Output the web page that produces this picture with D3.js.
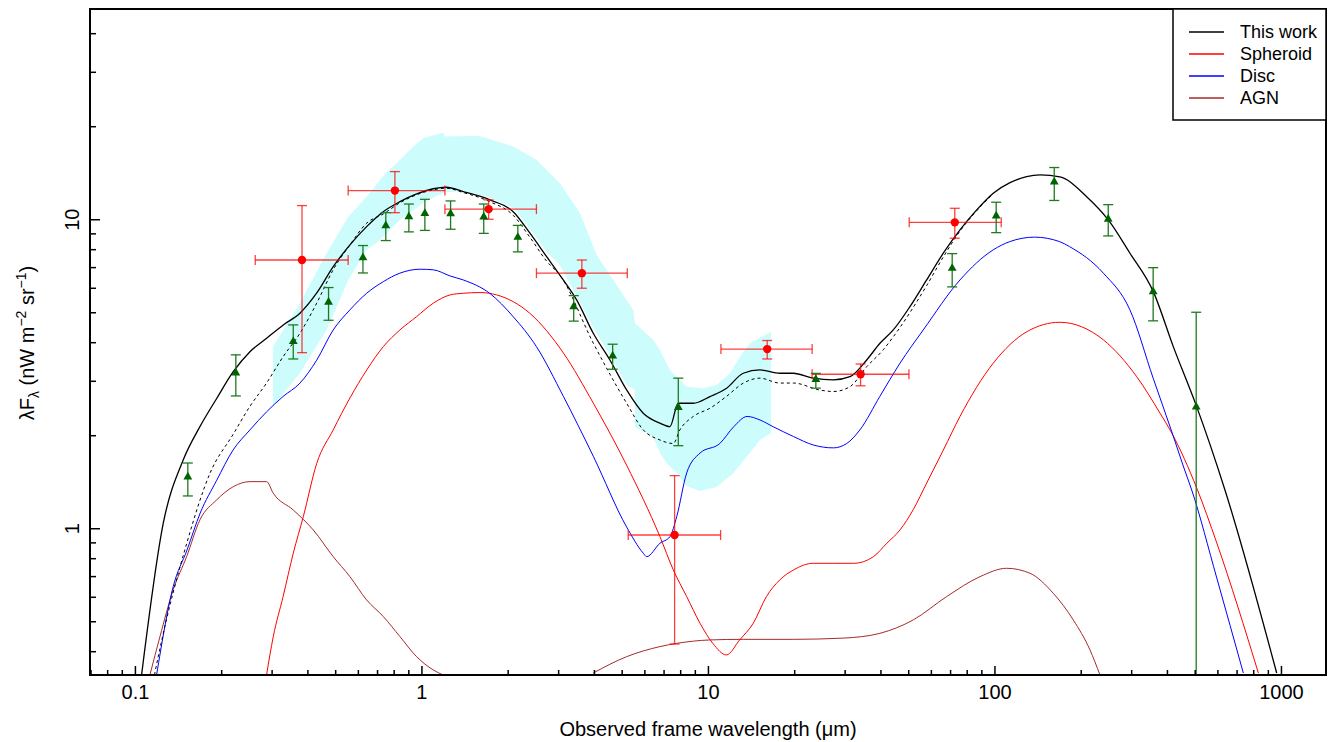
<!DOCTYPE html>
<html><head><meta charset="utf-8">
<script src="https://cdn.jsdelivr.net/npm/d3@7"></script>
<style>
body{margin:0;background:#fff}
text{font-family:"Liberation Sans",Arial,Helvetica,sans-serif;fill:#000}
</style>
</head><body>
<svg id="chart" width="1331" height="742"></svg>
<script>
// ---------- tick labels ----------
const xTickValues = [0.1, 1, 10, 100, 1000];
const xTickLabels = ["0.1", "1", "10", "100", "1000"];
const yTickValues = [1, 10];
const yTickLabels = ["1", "10"];
const legendLabels = ["This work", "Spheroid", "Disc", "AGN"];

// ---------- model curves [wavelength (um), lambda F_lambda] ----------
const thisWork = [[0.1055,0.335],[0.1256,1.038],[0.1474,1.663],[0.1686,2.132],[0.1929,2.63],[0.2204,3.21],[0.2520,3.727],[0.2882,4.120],[0.3294,4.549],[0.3766,4.964],[0.4306,5.761],[0.4922,7.024],[0.5630,8.259],[0.6438,9.464],[0.7358,10.58],[0.8414,11.40],[0.9621,12.08],[1.10,12.55],[1.22,12.69],[1.399,12.29],[1.734,11.55],[2.091,10.58],[2.392,9.010],[2.735,7.568],[3.126,6.362],[3.481,5.482],[3.978,4.276],[4.549,3.504],[5.202,2.803],[5.945,2.356],[6.800,2.187],[7.369,2.132],[7.876,2.538],[8.886,2.538],[10.16,2.666],[11.62,2.839],[13.28,3.174],[15.19,3.253],[17.84,3.174],[19.85,3.174],[23.31,3.058],[27.37,3.020],[31.31,3.094],[35.81,3.504],[39.84,3.968],[44.35,4.384],[50.70,5.213],[57.99,6.362],[66.27,7.762],[75.80,9.234],[86.70,10.72],[99.04,12.14],[113.3,13.13],[129.5,13.74],[144.2,13.91],[169.3,13.70],[209.8,11.83],[249.6,9.95],[297.2,7.76],[358.4,5.83],[420.9,3.87],[507.8,2.475],[637.5,1.33],[966.1,0.340]];
const thisWorkNoAGN = [[0.117,0.335],[0.122,0.404],[0.152,0.90],[0.183,1.51],[0.220,2.01],[0.252,2.48],[0.288,2.95],[0.329,3.59],[0.377,4.28],[0.431,5.35],[0.492,6.86],[0.563,8.26],[0.644,9.71],[0.736,10.4],[0.841,11.3],[0.962,12.0],[1.10,12.45],[1.22,12.6],[1.40,12.2],[1.73,11.4],[2.09,10.3],[2.39,8.75],[2.74,7.3],[3.04,6.60],[3.98,3.97],[5.20,2.54],[5.95,2.08],[6.80,1.93],[7.57,1.88],[7.98,2.08],[8.89,2.30],[10.2,2.45],[11.6,2.67],[13.3,2.95],[15.2,3.06],[17.8,2.95],[19.9,2.95],[24.6,2.80],[27.4,2.77],[31.3,2.87],[35.8,3.33],[40.9,3.78],[44.4,4.17],[58.0,6.1],[66.3,7.55],[75.8,9.15],[86.7,10.65],[99.0,12.1]];
const spheroid = [[0.288,0.335],[0.304,0.446],[0.329,0.601],[0.357,0.830],[0.387,1.09],[0.431,1.62],[0.492,2.08],[0.563,2.64],[0.644,3.25],[0.736,3.87],[0.841,4.38],[0.962,4.84],[1.10,5.35],[1.26,5.69],[1.40,5.76],[1.60,5.79],[1.83,5.69],[2.39,4.96],[3.13,3.69],[3.98,2.54],[5.20,1.60],[6.80,0.939],[7.57,0.733],[8.43,0.601],[9.38,0.493],[10.4,0.424],[11.6,0.389],[12.9,0.435],[14.4,0.493],[16.0,0.601],[17.8,0.680],[19.9,0.733],[23.3,0.770],[27.4,0.770],[32.2,0.770],[37.8,0.809],[42.1,0.894],[46.8,0.987],[52.1,1.15],[58.0,1.40],[66.3,1.79],[75.8,2.30],[99.0,3.42],[130,4.33],[169,4.64],[240,4.07],[314,3.09],[378,2.36],[416,2.03],[508,1.35],[597,0.896],[834,0.340]];
const disc = [[0.119,0.335],[0.136,0.647],[0.152,0.85],[0.169,1.12],[0.193,1.43],[0.220,1.79],[0.252,2.08],[0.288,2.38],[0.329,2.67],[0.377,2.95],[0.431,3.50],[0.492,4.38],[0.563,5.09],[0.644,5.76],[0.736,6.28],[0.841,6.69],[0.988,6.89],[1.10,6.86],[1.26,6.55],[1.40,6.36],[1.73,5.76],[2.09,4.84],[2.52,3.87],[3.13,2.67],[3.98,1.71],[5.20,1.01],[5.95,0.830],[6.11,0.809],[6.80,0.894],[7.37,0.939],[7.78,1.09],[8.43,1.51],[9.38,1.75],[11.0,1.88],[12.3,2.13],[13.7,2.30],[15.2,2.24],[16.9,2.13],[19.9,1.98],[23.3,1.86],[27.4,1.82],[30.5,1.88],[33.9,2.08],[39.8,2.67],[46.8,3.42],[56.4,4.38],[75.8,6.36],[99.0,7.96],[113,8.46],[138,8.75],[169,8.46],[183,8.15],[240,6.69],[297,5.09],[358,3.06],[416,2.05],[456,1.59],[488,1.33],[597,0.690],[739,0.340]];
const agnUV = [[0.1128,0.335],[0.1223,0.446],[0.1360,0.632],[0.1515,0.809],[0.1686,1.064],[0.1929,1.235],[0.2204,1.363],[0.2520,1.415],[0.2882,1.415],[0.3040,1.298],[0.3568,1.146],[0.4194,0.987],[0.4922,0.809],[0.5630,0.697],[0.6438,0.586],[0.7358,0.518],[0.8414,0.446],[0.9621,0.384],[1.099,0.348],[1.191,0.335]];
const agnIR = [[3.978,0.340],[5.202,0.384],[6.800,0.414],[7.776,0.424],[10.16,0.435],[13.28,0.437],[19.85,0.437],[29.67,0.441],[39.84,0.457],[52.07,0.505],[68.10,0.601],[88.99,0.697],[110.3,0.742],[133.0,0.715],[160.4,0.616],[188.4,0.505],[215.4,0.404],[233.5,0.335]];

// ---------- uncertainty band ----------
const bandUpper = [[0.3032,3.869],[0.3766,5.359],[0.4668,7.762],[0.5553,10.19],[0.6438,11.83],[0.7560,14.23],[0.8194,15.18],[0.9363,17.18],[1.015,18.29],[1.191,19.07],[1.208,18.51],[1.600,18.60],[2.091,17.18],[2.524,15.55],[3.043,13.08],[3.574,10.48],[4.088,7.664],[4.672,6.362],[5.487,5.087],[5.562,4.607],[6.444,4.068],[6.800,3.776],[7.369,3.253],[8.427,2.872],[9.630,2.839],[10.72,2.910],[11.94,3.174],[12.93,3.592],[14.02,3.968],[16.60,4.327]];
const bandLower = [[0.3032,2.475],[0.3766,3.181],[0.4668,4.384],[0.5553,6.362],[0.6438,7.955],[0.7164,8.570],[0.8414,9.947],[1.012,11.29],[1.189,12.17],[1.399,12.37],[1.734,11.72],[2.091,10.88],[2.392,9.302],[2.735,7.839],[3.043,7.114],[3.481,5.646],[3.978,4.448],[4.549,3.638],[5.202,2.910],[5.562,2.803],[5.562,2.127],[6.444,1.975],[6.800,1.753],[7.176,1.627],[7.776,1.510],[8.427,1.370],[9.378,1.320],[10.72,1.360],[12.26,1.507],[13.65,1.705],[15.19,1.931],[16.60,2.034]];

// ---------- observations: green triangles ----------
const triWave = [0.153,0.225,0.357,0.474,0.625,0.751,0.904,1.028,1.264,1.65,2.17,3.40,4.65,7.88,23.8,71.2,101.4,161.7,249.5,358,506];
const triFlux = [1.466,3.18,4.02,5.39,7.51,9.53,10.2,10.45,10.43,10.17,8.74,5.21,3.61,2.46,3.03,6.94,10.25,13.2,10.0,5.83,2.47];
const triLow  = [1.272,2.68,3.53,4.71,6.70,8.53,9.1,9.2,9.28,9.0,7.84,4.68,3.27,1.85,2.84,6.04,9.05,11.5,8.83,4.69,0.01];
const triHigh = [1.626,3.64,4.55,6.01,8.22,10.5,11.2,11.6,11.46,11.2,9.55,5.66,3.94,3.06,3.17,7.74,11.35,14.7,11.15,6.97,5.0];

// ---------- observations: red circles ----------
const dotWave   = [0.383,0.808,1.716,3.63,7.65,16.1,34.1,72.7];
const dotFlux   = [7.38,12.38,10.78,6.69,0.951,3.80,3.15,9.77];
const dotWaveLo = [0.263,0.555,1.208,2.52,5.27,11.1,23.1,50.4];
const dotWaveHi = [0.555,1.208,2.52,5.23,11.07,23.1,50.3,105.6];
const dotFluxLo = [3.70,10.5,10.0,5.98,0.422,3.53,2.89,8.68];
const dotFluxHi = [11.07,14.26,11.55,7.38,1.48,4.05,3.40,10.85];

// ---------- layout ----------
const L = 90, R = 1326, T = 9, B = 675;
const svg = d3.select("#chart");
const x = d3.scaleLog().domain([0.0697, 1436]).range([L, R]);
const y = d3.scaleLog().domain([0.335, 47.9]).range([B, T]);

svg.append("defs").append("clipPath").attr("id","clip")
  .append("rect").attr("x",L).attr("y",T).attr("width",R-L).attr("height",B-T);
const plot = svg.append("g").attr("clip-path","url(#clip)");

const line = d3.line().x(d => x(d[0])).y(d => y(d[1])).curve(d3.curveMonotoneX);
const polyLine = d3.line().x(d => x(d[0])).y(d => y(d[1]));

// band
plot.append("path")
  .attr("d", polyLine(bandUpper.concat(bandLower.slice().reverse())) + "Z")
  .attr("fill", "#ccfcfc").attr("stroke", "none");

// curves
const curve = (data, color, w, dash) => plot.append("path").attr("d", line(data))
  .attr("fill","none").attr("stroke",color).attr("stroke-width",w)
  .attr("stroke-dasharray", dash || null).attr("stroke-linejoin","round");
curve(agnUV, "#a52a2a", 1);
curve(agnIR, "#a52a2a", 1);
curve(spheroid, "#ff0000", 1);
curve(disc, "#0000ff", 1);
curve(thisWorkNoAGN, "#000", 1, "3,3");
curve(thisWork, "#000", 1.3);

// red points with error bars
const redErr = "rgba(255,0,0,0.75)";
dotWave.forEach((w, i) => {
  const cx = x(w), cy = y(dotFlux[i]);
  const x0 = x(dotWaveLo[i]), x1 = x(dotWaveHi[i]);
  const y0 = y(Math.max(dotFluxLo[i], 0.3)), y1 = y(dotFluxHi[i]);
  const g = plot.append("g").attr("stroke", redErr).attr("stroke-width", 1.3);
  g.append("line").attr("x1",x0).attr("x2",x1).attr("y1",cy).attr("y2",cy);
  g.append("line").attr("x1",x0).attr("x2",x0).attr("y1",cy-5).attr("y2",cy+5);
  g.append("line").attr("x1",x1).attr("x2",x1).attr("y1",cy-5).attr("y2",cy+5);
  g.append("line").attr("x1",cx).attr("x2",cx).attr("y1",y0).attr("y2",y1);
  g.append("line").attr("x1",cx-5).attr("x2",cx+5).attr("y1",y0).attr("y2",y0);
  g.append("line").attr("x1",cx-5).attr("x2",cx+5).attr("y1",y1).attr("y2",y1);
  plot.append("circle").attr("cx",cx).attr("cy",cy).attr("r",4.2).attr("fill","#ff0000");
});

// green triangles with error bars
const greenErr = "#1f7a1f";
const tri = d3.symbol().type(d3.symbolTriangle).size(34);
triWave.forEach((w, i) => {
  const cx = x(w), cy = y(triFlux[i]);
  const y0 = y(Math.max(triLow[i], 0.2)), y1 = y(triHigh[i]);
  const g = plot.append("g").attr("stroke", greenErr).attr("stroke-width", 1.3);
  g.append("line").attr("x1",cx).attr("x2",cx).attr("y1",y0).attr("y2",y1);
  if (triLow[i] > 0.335) g.append("line").attr("x1",cx-5).attr("x2",cx+5).attr("y1",y0).attr("y2",y0);
  g.append("line").attr("x1",cx-5).attr("x2",cx+5).attr("y1",y1).attr("y2",y1);
  plot.append("path").attr("d", tri()).attr("transform",`translate(${cx},${cy})`).attr("fill","#006400");
});

// ---------- axes ----------
const xMinor = [];
[0.01,0.1,1,10,100,1000].forEach(d => { for (let k=2;k<=9;k++){ const v=d*k; if (v>0.0697 && v<1436) xMinor.push(v);} });
const yMinor = [];
[0.1,1,10].forEach(d => { for (let k=2;k<=9;k++){ const v=d*k; if (v>0.335 && v<47.9) yMinor.push(v);} });

const xAxis = svg.append("g").attr("transform",`translate(0,${B})`)
  .call(d3.axisBottom(x).tickValues(xTickValues).tickFormat((d,i)=>xTickLabels[i]).tickSize(-9).tickPadding(10));
const xAxisMinor = svg.append("g").attr("transform",`translate(0,${B})`)
  .call(d3.axisBottom(x).tickValues(xMinor).tickFormat("").tickSize(-5));
const yAxis = svg.append("g").attr("transform",`translate(${L},0)`)
  .call(d3.axisLeft(y).tickValues(yTickValues).tickFormat((d,i)=>yTickLabels[i]).tickSize(-10).tickPadding(14));
const yAxisMinor = svg.append("g").attr("transform",`translate(${L},0)`)
  .call(d3.axisLeft(y).tickValues(yMinor).tickFormat("").tickSize(-6));
[xAxis,xAxisMinor,yAxis,yAxisMinor].forEach(a => {
  a.select(".domain").remove();
  a.selectAll(".tick line").attr("stroke","#000").attr("stroke-width",1.5);
  a.selectAll("text").style("font-size","20px").attr("fill","#000");
});
xAxis.selectAll("text").attr("dy","0.71em");
yAxis.selectAll(".tick text").each(function(){
  d3.select(this).attr("x", null).attr("dy", "0em").attr("text-anchor","middle")
    .attr("transform", "translate(-11,0) rotate(-90)");
});

// frame
svg.append("rect").attr("x",L).attr("y",T).attr("width",R-L).attr("height",B-T)
  .attr("fill","none").attr("stroke","#000").attr("stroke-width",2);

// axis titles
svg.append("text").attr("x",(L+R)/2).attr("y",736).attr("text-anchor","middle")
  .style("font-size","20px").text("Observed frame wavelength (\u03bcm)");
const yt = svg.append("text").attr("transform","translate(34,343) rotate(-90)")
  .attr("text-anchor","middle").style("font-size","20px");
yt.append("tspan").text("\u03bbF");
yt.append("tspan").attr("dy",5).style("font-size","14px").text("\u03bb");
yt.append("tspan").attr("dy",-5).text(" (nW m");
yt.append("tspan").attr("dy",-8).style("font-size","14px").text("\u22122");
yt.append("tspan").attr("dy",8).text(" sr");
yt.append("tspan").attr("dy",-8).style("font-size","14px").text("\u22121");
yt.append("tspan").attr("dy",8).text(")");

// legend
const legColors = ["#000","#ff0000","#0000ff","#a52a2a"];
svg.append("rect").attr("x",1173).attr("y",T).attr("width",R-1173).attr("height",111)
  .attr("fill","#fff").attr("stroke","#000").attr("stroke-width",1.5);
legendLabels.forEach((lab,i) => {
  const yy = 32 + i*22;
  svg.append("line").attr("x1",1189).attr("x2",1224).attr("y1",yy).attr("y2",yy)
    .attr("stroke",legColors[i]).attr("stroke-width",1.3);
  svg.append("text").attr("x",1240).attr("y",yy).attr("dy","0.35em")
    .style("font-size","18px").text(lab);
});
</script>
</body></html>
